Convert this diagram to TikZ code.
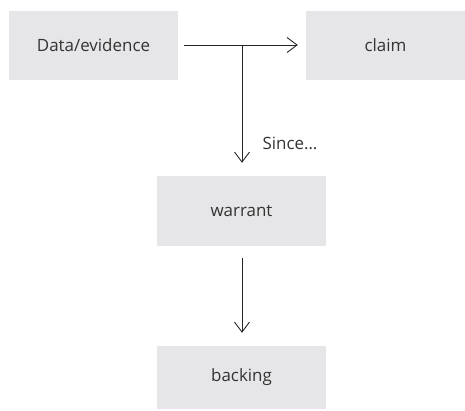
\documentclass[tikz,border=0pt]{standalone}
\usepackage{fontspec}
\setmainfont{Open Sans}
\usetikzlibrary{arrows.meta}
\definecolor{boxgray}{HTML}{E6E6E8}
\definecolor{txtgray}{HTML}{333333}
\begin{document}
\begin{tikzpicture}[x=1bp,y=-1bp,
  box/.style={fill=boxgray,draw=none,inner sep=0pt,text=txtgray,font=\fontsize{17}{20}\selectfont},
  conn/.style={draw=black!85,line width=0.9bp,-{Straight Barb[length=10bp,width=15bp,line width=0.9bp]}}]
\useasboundingbox (0,0) rectangle (465,410);
\node[box,minimum width=169bp,minimum height=69bp] (data) at (93.5,45.5) {Data/evidence};
\node[box,minimum width=159bp,minimum height=69bp] (claim) at (385.5,45.5) {claim};
\node[box,minimum width=169bp,minimum height=70bp] (warrant) at (241.5,211) {warrant};
\node[box,minimum width=169bp,minimum height=63bp] (backing) at (241.5,377.5) {backing};
\coordinate (j) at (242,45);
\draw[conn,shorten <=6bp,shorten >=8bp] (data.east |- j) -- (claim.west |- j);
\draw[conn,shorten >=13bp] (j) -- (j |- warrant.north);
\node[text=txtgray,font=\fontsize{17}{20}\selectfont,anchor=west] (since) at (259,143) {Since…};
\draw[conn,shorten <=12bp,shorten >=13bp] (j |- warrant.south) -- (j |- backing.north);
\end{tikzpicture}
\end{document}
